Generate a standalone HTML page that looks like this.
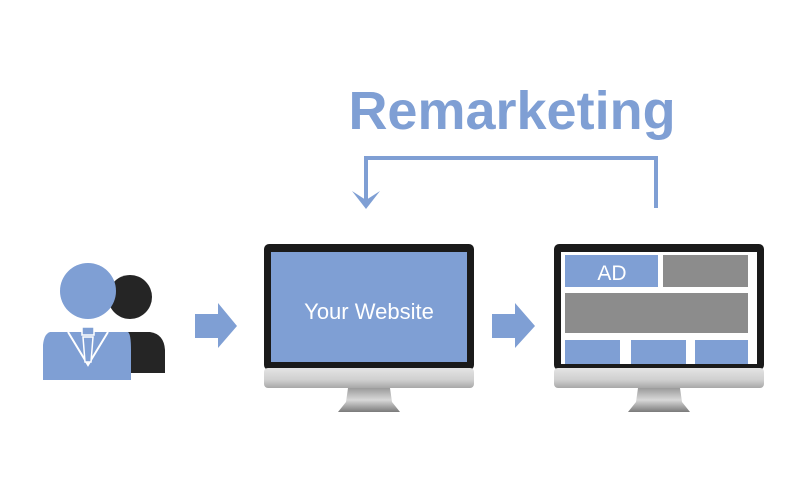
<!DOCTYPE html>
<html><head><style>
body{margin:0;background:#fff;}
svg{display:block}
</style></head><body>
<svg width="800" height="500" viewBox="0 0 800 500" xmlns="http://www.w3.org/2000/svg">
<defs>
<linearGradient id="chin" x1="0" y1="0" x2="0" y2="1">
<stop offset="0" stop-color="#e4e4e4"/><stop offset="0.6" stop-color="#cfcfcf"/><stop offset="1" stop-color="#a8a8a8"/></linearGradient>
<linearGradient id="stand" x1="0" y1="0" x2="0" y2="1">
<stop offset="0" stop-color="#9a9a9a"/><stop offset="0.5" stop-color="#d8d8d8"/><stop offset="1" stop-color="#7a7a7a"/></linearGradient>
</defs>
<text x="512" y="129" text-anchor="middle" font-family="Liberation Sans, sans-serif" font-size="54" font-weight="bold" fill="#7f9fd4">Remarketing</text>
<polyline points="366,200 366,158 656,158 656,208" fill="none" stroke="#7f9fd4" stroke-width="4"/>
<polygon points="352,191 366,200 380,191 366,209" fill="#7f9fd4"/>

<!-- people -->
<circle cx="130" cy="297" r="22" fill="#252525"/>
<path d="M105,332 L150,332 Q164,334 165,350 L165,373 L100,373 Z" fill="#252525"/>
<circle cx="88" cy="291" r="28" fill="#7f9fd4"/>
<path d="M50,332 L128,332 Q131,334 131,350 L131,380 L43,380 L43,345 Q44,334 50,332 Z" fill="#7f9fd4"/>
<path d="M68,332 L88,365 L108,332" fill="none" stroke="#fff" stroke-width="2"/>
<rect x="82" y="327" width="12" height="8" fill="#7f9fd4" stroke="#fff" stroke-width="1.5"/>
<path d="M83,337 L93,337 L91,362 L85,362 Z" fill="#7f9fd4" stroke="#fff" stroke-width="1.5"/>

<!-- arrows -->
<polygon points="195,314 218,314 218,303 237,326 218,348 218,338 195,338" fill="#7f9fd4"/>
<polygon points="492,314 515,314 515,303 535,326 515,348 515,338 492,338" fill="#7f9fd4"/>

<!-- monitor 1 -->
<rect x="264" y="244" width="210" height="126" rx="5" fill="#1a1a1a"/>
<rect x="271" y="252" width="196" height="110" fill="#7f9fd4"/>
<rect x="264" y="368" width="210" height="20" rx="4" fill="url(#chin)"/>
<polygon points="348,388 390,388 392,402 400,412 338,412 346,402" fill="url(#stand)"/>
<text x="369" y="319" text-anchor="middle" font-family="Liberation Sans, sans-serif" font-size="22" fill="#fff">Your Website</text>

<!-- monitor 2 -->
<rect x="554" y="244" width="210" height="126" rx="5" fill="#1a1a1a"/>
<rect x="561" y="252" width="196" height="112" fill="#fff"/>
<rect x="565" y="255" width="93" height="32" fill="#7f9fd4"/>
<text x="612" y="280" text-anchor="middle" font-family="Liberation Sans, sans-serif" font-size="21" fill="#fff">AD</text>
<rect x="663" y="255" width="85" height="32" fill="#8c8c8c"/>
<rect x="565" y="293" width="183" height="40" fill="#8c8c8c"/>
<rect x="565" y="340" width="55" height="24" fill="#7f9fd4"/>
<rect x="631" y="340" width="55" height="24" fill="#7f9fd4"/>
<rect x="695" y="340" width="53" height="24" fill="#7f9fd4"/>
<rect x="554" y="368" width="210" height="20" rx="4" fill="url(#chin)"/>
<polygon points="638,388 680,388 682,402 690,412 628,412 636,402" fill="url(#stand)"/>
</svg>
</body></html>
